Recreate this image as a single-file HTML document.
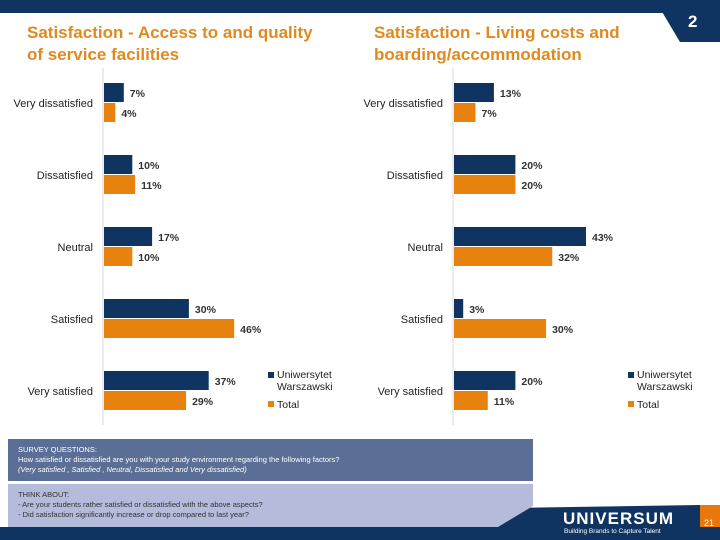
<!DOCTYPE html>
<html><head><meta charset="utf-8"><style>
body{margin:0;width:720px;height:540px;position:relative;overflow:hidden;background:#fff;font-family:"Liberation Sans",Arial,sans-serif}
.abs{position:absolute}
.title{color:#e08a1e;font-weight:bold;font-size:17px;line-height:22px}
.box{font-size:7.5px;line-height:10px;padding:6px 10px;box-sizing:border-box}
</style></head><body>
<div class="abs" style="left:0;top:0;width:720px;height:13px;background:#0f3461"></div>
<svg class="abs" style="left:0;top:0" width="720" height="540">
<polygon points="655,0 720,0 720,42 680,42" fill="#0f3461"/>
<polygon points="470,540 505,508 700,505 700,540" fill="#0f3461"/>
<rect x="700" y="505" width="20" height="35" fill="#e8770e"/>
<rect x="0" y="527" width="720" height="13" fill="#0f3461"/>
</svg>
<div class="abs" style="left:688px;top:12px;color:#fff;font-weight:bold;font-size:17px">2</div>
<div class="abs title" style="left:27px;top:22px">Satisfaction - Access to and quality<br>of service facilities</div>
<div class="abs title" style="left:374px;top:22px">Satisfaction - Living costs and<br>boarding/accommodation</div>
<svg id="chart" class="abs" style="left:0;top:0" width="720" height="540"></svg>
<div class="abs box" style="left:8px;top:439px;width:525px;height:42px;background:#5b6f96;color:#fff">SURVEY QUESTIONS:<br>How satisfied or dissatisfied are you with your study environment regarding the following factors?<br><i>(Very satisfied , Satisfied , Neutral, Dissatisfied and Very dissatisfied)</i></div>
<svg class="abs" style="left:8px;top:484px" width="527" height="43"><polygon points="0,0 525,0 525,22 490,43 0,43" fill="#b4bbdb"/></svg>
<div class="abs box" style="left:8px;top:484px;width:500px;height:43px;color:#333">THINK ABOUT:<br>- Are your students rather satisfied or dissatisfied with the above aspects?<br>- Did satisfaction significantly increase or drop compared to last year?</div>
<div class="abs" style="left:563px;top:509px;color:#fff;font-weight:bold;font-size:17px;letter-spacing:1px">UNIVERSUM</div>
<div class="abs" style="left:564px;top:528px;color:#fff;font-size:6.5px">Building Brands to Capture Talent</div>
<div class="abs" style="left:704px;top:518px;color:#fff;font-size:9px">21</div>
<script>
const categories=["Very dissatisfied","Dissatisfied","Neutral","Satisfied","Very satisfied"];
const leftUW=[7,10,17,30,37];
const leftTotal=[4,11,10,46,29];
const rightUW=[13,20,43,3,20];
const rightTotal=[7,20,32,30,11];
const seriesNames=["Uniwersytet Warszawski","Total"];
const NS="http://www.w3.org/2000/svg";
const svg=document.getElementById('chart');
function mk(t,a){const e=document.createElementNS(NS,t);for(const k in a)e.setAttribute(k,a[k]);svg.appendChild(e);return e;}
function drawChart(x0,scale,uw,tot,side,legX){
  const yBand=i=>83+i*72;
  const xs=v=>v*scale;
  const ax=mk('line',{x1:x0,x2:x0,y1:68,y2:425,stroke:'#d8d8d8','stroke-width':1});
  
  
  categories.forEach((c,i)=>{
    const y=yBand(i);
    const lab=mk('text',{x:x0-10,y:y+24,'text-anchor':'end','font-size':11,fill:'#222','font-family':'Liberation Sans, sans-serif'});
    lab.textContent=c;
    
    
    [[uw[i],'#0f3461',y],[tot[i],'#e8820e',y+20]].forEach((s,j)=>{
      const r=mk('rect',{x:x0+1,y:s[2],width:xs(s[0]),height:19,fill:s[1]});
      
      
      const t=mk('text',{x:x0+1+xs(s[0])+6,y:s[2]+14,'font-size':10.5,'font-weight':'bold',fill:'#333','font-family':'Liberation Sans, sans-serif'});
      t.textContent=s[0]+'%';
      
      
    });
  });
  const l1=mk('rect',{x:legX,y:372,width:6,height:6,fill:'#0f3461'});
  
  
  const t1=mk('text',{x:legX+9,y:378,'font-size':10.5,fill:'#222','font-family':'Liberation Sans, sans-serif'});
  t1.innerHTML='<tspan>Uniwersytet</tspan><tspan x="'+(legX+9)+'" dy="12">Warszawski</tspan>';
  
  
  const l2=mk('rect',{x:legX,y:401,width:6,height:6,fill:'#e8820e'});
  
  
  const t2=mk('text',{x:legX+9,y:408,'font-size':10.5,fill:'#222','font-family':'Liberation Sans, sans-serif'});
  t2.textContent=seriesNames[1];
  
  
}
drawChart(103,2.83,leftUW,leftTotal,'left',268);
drawChart(453,3.07,rightUW,rightTotal,'right',628);
</script>
</body></html>
